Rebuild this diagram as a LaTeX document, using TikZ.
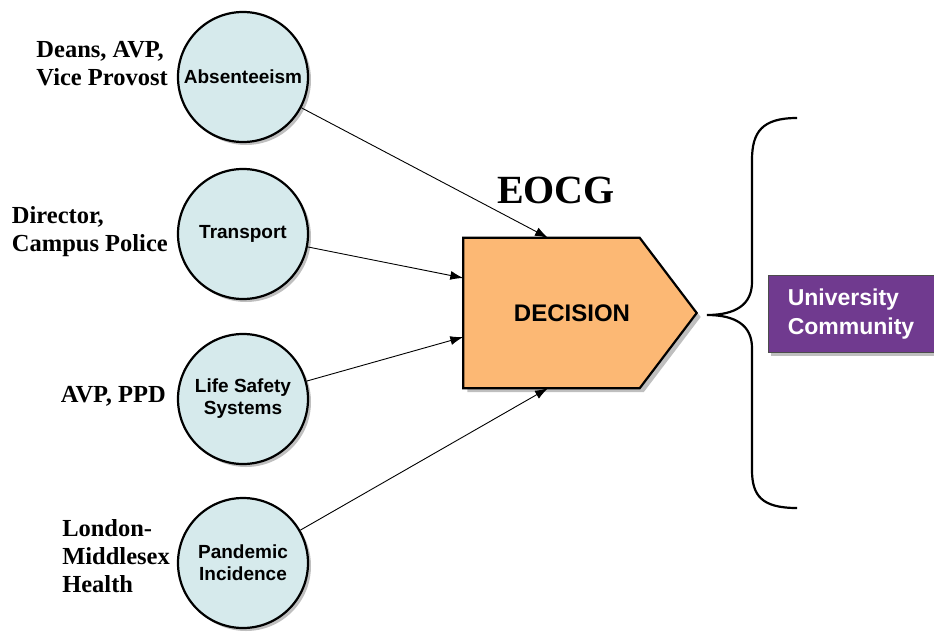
\documentclass[tikz,border=0pt]{standalone}
\usepackage{fontspec}
\setmainfont{Liberation Serif}
\setsansfont{Liberation Sans}
\usetikzlibrary{shadows,arrows.meta,backgrounds}
\definecolor{circfill}{RGB}{214,234,236}
\definecolor{decfill}{RGB}{252,184,116}
\definecolor{unipurple}{RGB}{112,58,143}

\begin{document}
\begin{tikzpicture}[x=1pt,y=-1pt,
  circ/.style={circle, draw, line width=2.2pt, fill=circfill, minimum size=130pt, inner sep=0pt, align=center,
    font=\sffamily\bfseries\fontsize{19}{22}\selectfont,
    drop shadow={shadow xshift=3pt, shadow yshift=-3pt, opacity=0.5}},
  who/.style={anchor=east, align=left, inner sep=0pt, font=\bfseries\fontsize{24.5}{28}\selectfont},
  arr/.style={-{Latex[length=13pt,width=9pt]}, line width=0.9pt},
  dec/.style={minimum width=233pt, minimum height=150pt, inner sep=0pt, font=\sffamily\bfseries\fontsize{24}{28}\selectfont},
  uni/.style={rectangle, draw=black!70, fill=unipurple, text=white, minimum width=166pt, minimum height=77pt, align=left,
    font=\sffamily\bfseries\fontsize{23}{29}\selectfont,
    drop shadow={shadow xshift=3pt, shadow yshift=-3pt, opacity=0.5}}]
\useasboundingbox (0,0) rectangle (934,632);

\node[circ] (a) at (243,77) {Absenteeism};
\node[circ] (t) at (243,234) {Transport};
\node[circ] (l) at (243,399) {Life Safety\\Systems};
\node[circ] (p) at (243,563) {Pandemic\\Incidence};

\node[who] (da) at (168,64) {Deans, AVP,\\Vice Provost};
\node[who] (dc) at (168,232) {Director,\\Campus Police};
\node[who] (ap) at (166,396) {AVP, PPD};
\node[who] (lm) at (170,556) {London-\\Middlesex\\Health};

\node[dec] (d) at (580,313) {\hspace*{-16pt}DECISION};
\begin{pgfonlayer}{background}
\draw[line width=2.2pt, fill=decfill, drop shadow={shadow xshift=4pt, shadow yshift=-4pt, opacity=0.5}]
  (d.north west) -- ([xshift=-57pt]d.north east) -- (d.east) -- ([xshift=-57pt]d.south east) -- (d.south west) -- cycle;
\end{pgfonlayer}
\node[font=\bfseries\fontsize{40}{44}\selectfont] (e) at (556,190) {EOCG};

\draw[arr] (a)--([xshift=-32pt]d.north);
\draw[arr] (t)--([yshift=35pt]d.west);
\draw[arr] (l)--([yshift=-24pt]d.west);
\draw[arr] (p)--([xshift=-32pt]d.south);

%\draw[dashed] (d.east)--(707,315);
\draw[line width=2.2pt] (797,118) .. controls (762,118) and (752,132) .. (752,160) -- (752,282)
  .. controls (752,305) and (735,315) .. (707,315)
  .. controls (735,315) and (752,325) .. (752,348) -- (752,470)
  .. controls (752,496) and (762,508) .. (797,508);

\node[uni] (u) at (851,314) {University\\Community};
\end{tikzpicture}
\end{document}
